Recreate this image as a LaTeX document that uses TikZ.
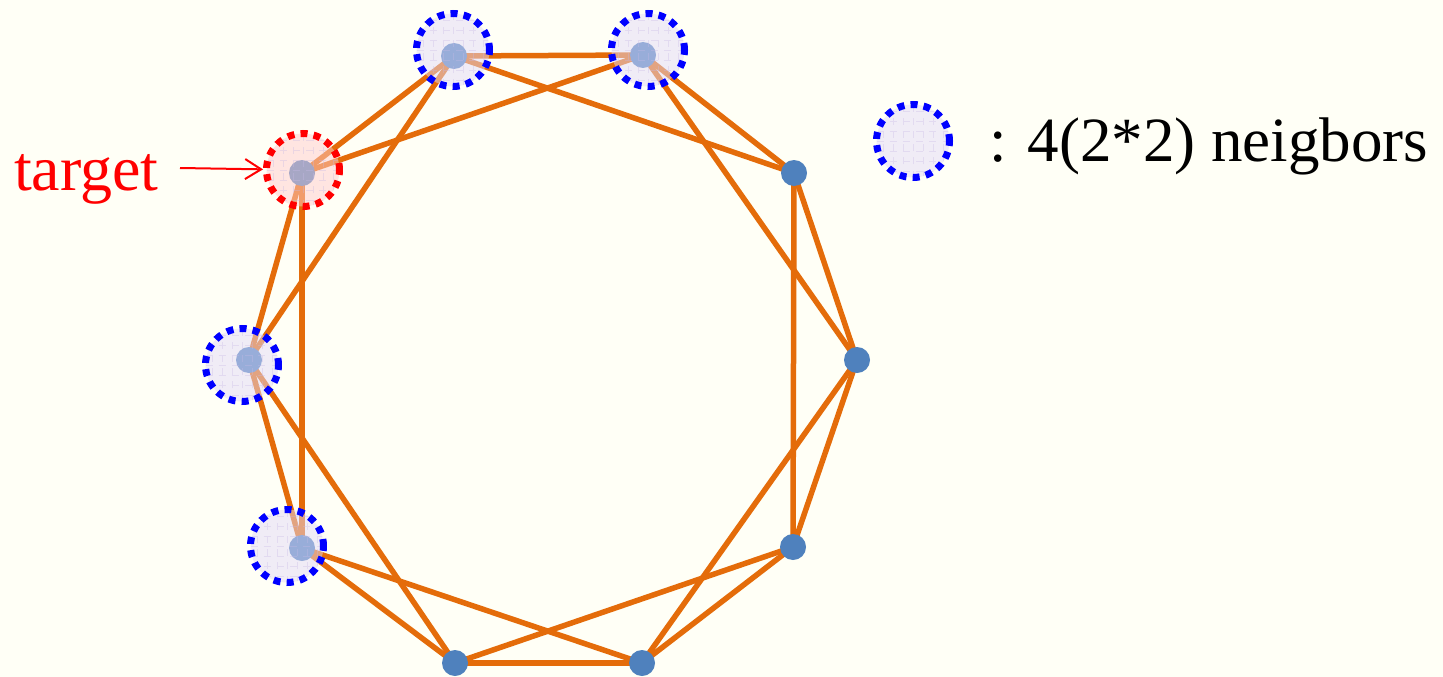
\documentclass[tikz,border=0pt]{standalone}
\usepackage{fontspec}
\setmainfont{Liberation Serif}
\usetikzlibrary{arrows.meta}
\definecolor{bgc}{RGB}{255,255,246}
\definecolor{edgeor}{RGB}{228,108,10}
\definecolor{nodeblue}{RGB}{79,129,189}
\definecolor{lav}{RGB}{226,218,246}
\definecolor{pinkfill}{RGB}{255,205,205}
\definecolor{gridc}{RGB}{200,185,230}
\pgfdeclarelayer{bglayer}
\pgfdeclarelayer{edgelayer}
\pgfsetlayers{bglayer,edgelayer,main}
\begin{document}
\begin{tikzpicture}[x=1pt,y=-1pt,
  vert/.style={circle,fill=nodeblue,minimum size=26pt,inner sep=0pt},
  link/.style={draw=edgeor,line width=5.5pt},
  halo/.style={circle,minimum size=73pt,inner sep=0pt,fill=#1,fill opacity=0.5,
    draw=blue,line width=7pt,dash pattern=on 7pt off 6.2pt,
    path picture={\draw[gridc,opacity=0.35,line width=0.8pt,step=10pt]
      (path picture bounding box.south west) grid (path picture bounding box.north east);}},
  lbl/.style={font=\fontsize{64}{64}\selectfont}
]
\begin{pgfonlayer}{bglayer}
\path[fill=bgc] (0,0) rectangle (1443,677);
\end{pgfonlayer}
% vertices
\node[vert] (n0) at (454,56) {};
\node[vert] (n1) at (643,55) {};
\node[vert] (n2) at (794,173) {};
\node[vert] (n3) at (857,360) {};
\node[vert] (n4) at (793,547) {};
\node[vert] (n5) at (642,663) {};
\node[vert] (n6) at (455,663) {};
\node[vert] (n7) at (302,548) {};
\node[vert] (n8) at (249,360) {};
\node[vert] (n9) at (302,173) {};
% edges
\begin{pgfonlayer}{edgelayer}
\foreach \i in {0,...,9} {
  \pgfmathtruncatemacro\j{mod(\i+1,10)}
  \pgfmathtruncatemacro\k{mod(\i+2,10)}
  \draw[link] (n\i.center) -- (n\j.center);
  \draw[link] (n\i.center) -- (n\k.center);
}
\end{pgfonlayer}
% highlight halos
\node[halo=lav] (h0) at (453,50) {};
\node[halo=lav] (h1) at (648,50) {};
\node[halo=lav] (h7) at (287,546) {};
\node[halo=lav] (h8) at (242,365) {};
\node[halo=pinkfill,draw=red] (tc) at (303,170) {};
% target label and arrow
\node[lbl,text=red,anchor=base west,inner sep=0pt] (tlabel) at (14,190) {target};
\coordinate (astart) at (180,168);
\draw[red,line width=2pt,-{Straight Barb[length=16pt,width=20pt,line width=2pt]}] (astart) -- (tc);
% legend
\node[halo=lav] (legc) at (913,141) {};
\node[lbl,font=\fontsize{63}{63}\selectfont,anchor=base west,inner sep=0pt] (legt) at (989,161) {: 4(2*2) neigbors};
\end{tikzpicture}
\end{document}
